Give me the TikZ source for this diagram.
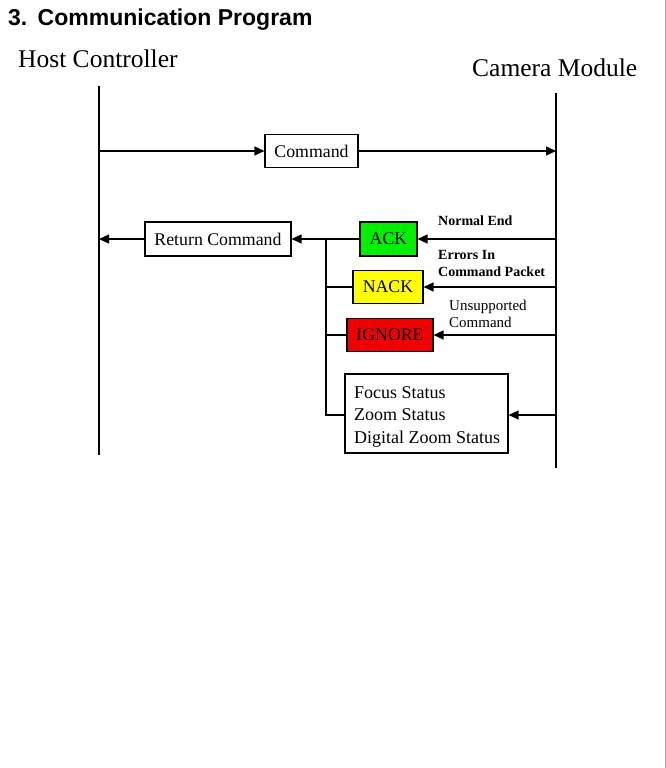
\documentclass[tikz,border=0pt]{standalone}
\usepackage{fontspec}
\setmainfont{Liberation Serif}
\newfontfamily\titlefont{Liberation Sans}
\usetikzlibrary{arrows.meta}
\definecolor{ackgreen}{RGB}{0,240,0}
\definecolor{nackyellow}{RGB}{255,255,0}
\definecolor{ignred}{RGB}{240,0,0}
\begin{document}
\begin{tikzpicture}[x=1pt,y=-1pt,
  life/.style={line width=1.7pt},
  conn/.style={line width=1.4pt},
  arr/.style={conn,-{Triangle[length=10pt,width=9pt]}},
  msgbox/.style={draw,line width=1.1pt,inner sep=0pt,font=\fontsize{17.8}{20}\selectfont},
  lbl/.style={inner sep=0pt,anchor=base west,align=left},
  bl/.style={lbl,font=\bfseries\fontsize{14}{17}\selectfont},
  rl/.style={lbl,font=\fontsize{15}{17}\selectfont}]
\useasboundingbox (0,0) rectangle (666,768);
\fill[white] (0,0) rectangle (666,768);
\draw[gray!70,line width=1pt] (665,0) -- (665,768);
% titles
\node[lbl,font=\titlefont\bfseries\fontsize{23}{26}\selectfont] (title) at (8,26) {3.\hspace{0.45em}Communication Program};
\node[lbl,font=\fontsize{25.5}{28}\selectfont] (host) at (18,67) {Host Controller};
\node[lbl,font=\fontsize{25.5}{28}\selectfont] (cam) at (472,76) {Camera Module};
% lifelines
\coordinate (hT) at (99,86); \coordinate (hB) at (99,455);
\coordinate (cT) at (556,93); \coordinate (cB) at (556,468);
\draw[life] (hT) -- (hB);
\draw[life] (cT) -- (cB);
% boxes
\node[msgbox,minimum width=93pt,minimum height=33pt] (cmd) at (311.5,151) {Command};
\node[msgbox,minimum width=146pt,minimum height=34pt] (ret) at (218,239) {Return Command};
\node[msgbox,fill=ackgreen,minimum width=57pt,minimum height=34pt] (ack) at (388.5,239) {ACK};
\node[msgbox,fill=nackyellow,minimum width=70pt,minimum height=33pt] (nack) at (388,287) {NACK};
\node[msgbox,fill=ignred,minimum width=86pt,minimum height=33pt] (ign) at (390,335) {IGNORE};
\node[msgbox,minimum width=163pt,minimum height=79pt] (stat) at (426.5,413.5) {};
\node[lbl,font=\fontsize{18}{22.5}\selectfont] (stattxt) at (354,443) {Focus Status\\Zoom Status\\Digital Zoom Status};
% junction line
\coordinate (jTop) at (326,239);
\coordinate (jB) at (326,415);
% connectors
\draw[arr] (cmd.west -| hT) -- (cmd.west);
\draw[arr] (cmd.east) -- (cmd.east -| cT);
\draw[arr] (ret.west) -- (ret.west -| hT);
\draw[arr] (ack.west) -- (ret.east);
\draw[arr] (ack.east -| cT) -- (ack.east);
\draw[arr] (nack.east -| cT) -- (nack.east);
\draw[arr] (ign.east -| cT) -- (ign.east);
\draw[arr] (jB -| cT) -- (jB -| stat.east);
\draw[conn] (jTop) -- (jB) -- (jB -| stat.west);
\draw[conn] (nack.west -| jTop) -- (nack.west);
\draw[conn] (ign.west -| jTop) -- (ign.west);
% labels
\node[bl] (l1) at (438,225) {Normal End};
\node[bl] (l2) at (438,276) {Errors In\\Command Packet};
\node[rl] (l3) at (449,327) {Unsupported\\Command};
\end{tikzpicture}
\end{document}
